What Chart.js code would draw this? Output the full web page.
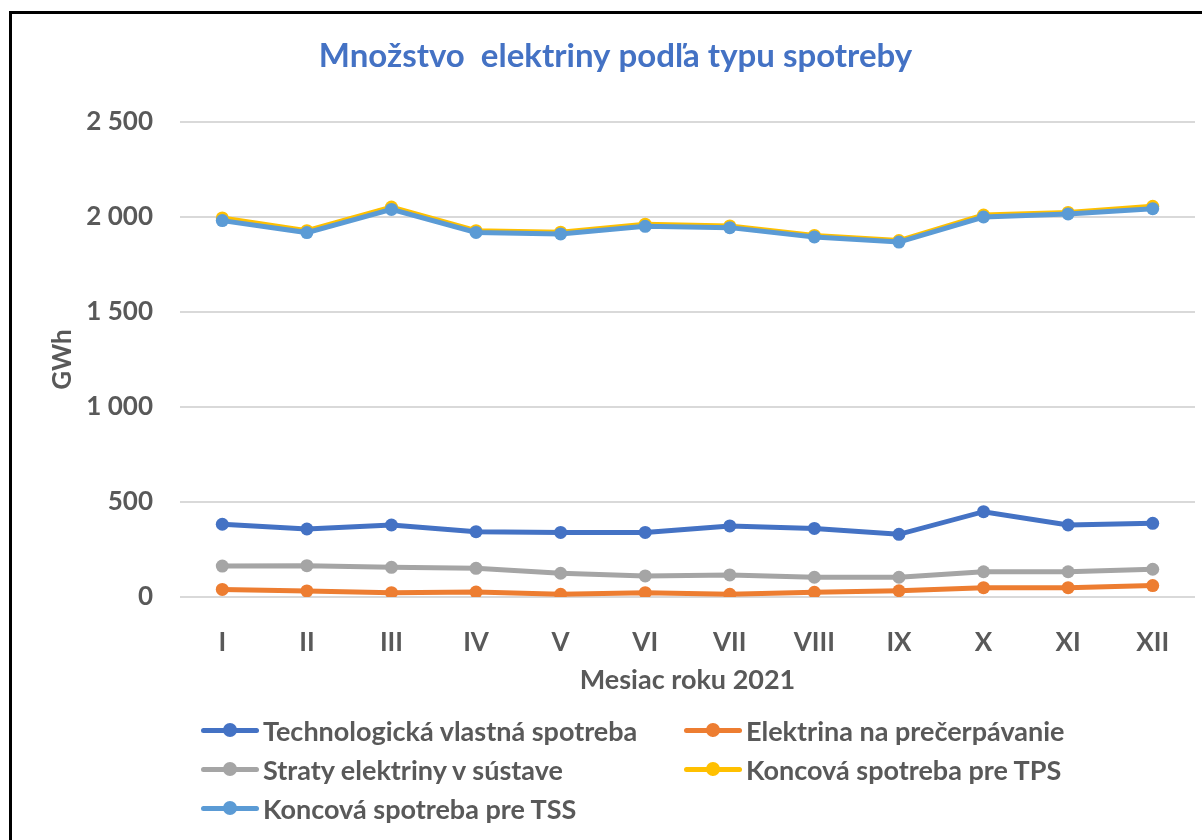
<!DOCTYPE html>
<html lang="sk">
<head>
<meta charset="utf-8">
<title>Množstvo elektriny podľa typu spotreby</title>
<script src="https://cdn.jsdelivr.net/npm/chart.js@4.4.1/dist/chart.umd.min.js"></script>
<style>
  html, body { margin: 0; padding: 0; background: #fff; overflow: hidden; }
  #wrap { position: relative; width: 1202px; height: 840px; }
  #frame { position: absolute; left: 9px; top: 11px; width: 1400px; height: 1000px; border: 3px solid #000; box-sizing: border-box; pointer-events: none; }
  #graf { position: absolute; left: 0; top: 0; }
  #legenda { position: absolute; left: 0; top: 0; font-family: Lato, sans-serif; font-weight: bold; font-size: 27px; color: #595959; }
  .polozka { position: absolute; display: flex; align-items: center; height: 30px; white-space: nowrap; }
  .vzorka { position: relative; width: 58px; height: 14px; margin-right: 4px; }
  .vzorka::before { content: ""; position: absolute; left: 0; right: 0; top: 4.5px; height: 5px; border-radius: 3px; background: var(--c); }
  .vzorka::after { content: ""; position: absolute; left: 22px; top: 0; width: 14px; height: 14px; border-radius: 50%; background: var(--c); }
</style>
</head>
<body>
<div id="wrap">
  <canvas id="graf" width="1202" height="840"></canvas>
  <div id="legenda"></div>
  <div id="frame"></div>
</div>
<script>
const mesiace = ["I", "II", "III", "IV", "V", "VI", "VII", "VIII", "IX", "X", "XI", "XII"];
const technologicka = [383, 358, 379, 344, 340, 340, 374, 361, 330, 449, 379, 388];
const precerpavanie = [40, 32, 23, 26, 14, 23, 14, 25, 33, 49, 49, 60];
const straty = [163, 165, 156, 151, 125, 111, 116, 104, 104, 133, 133, 146];
const koncovaTPS = [1995, 1928, 2052, 1928, 1920, 1962, 1953, 1903, 1876, 2010, 2024, 2056];
const koncovaTSS = [1981, 1918, 2040, 1919, 1911, 1951, 1944, 1895, 1868, 2000, 2016, 2044];

const nazvy = ["Technologická vlastná spotreba", "Elektrina na prečerpávanie", "Straty elektriny v sústave", "Koncová spotreba pre TPS", "Koncová spotreba pre TSS"];
const farby = ["#4472C4", "#ED7D31", "#A5A5A5", "#FFC000", "#5B9BD5"];
const hodnoty = [technologicka, precerpavanie, straty, koncovaTPS, koncovaTSS];
const poradie = [1, 2, 3, 5, 4];

const sivaText = '#595959';
const pismo = 'Lato, sans-serif';

const datasets = hodnoty.map((data, i) => ({
    label: nazvy[i],
    data: data,
    borderColor: farby[i],
    backgroundColor: farby[i],
    borderWidth: 5,
    pointRadius: 6.5,
    pointHoverRadius: 6.5,
    pointBorderWidth: 0,
    tension: 0,
    order: poradie[i]
}));

const ctx = document.getElementById('graf').getContext('2d');
new Chart(ctx, {
    type: 'line',
    data: { labels: mesiace, datasets: datasets },
    options: {
        responsive: false,
        animation: false,
        layout: { padding: { left: 36, right: 7, top: 0, bottom: 0 } },
        plugins: {
            legend: { display: false },
            tooltip: { enabled: false },
            title: {
                display: true,
                text: 'Množstvo  elektriny podľa typu spotreby',
                color: '#4472C4',
                font: { family: pismo, size: 33, weight: 'bold' },
                padding: { top: 37, bottom: 45.4 }
            }
        },
        scales: {
            x: {
                offset: true,
                grid: { display: false },
                border: { display: false },
                ticks: {
                    color: sivaText,
                    padding: 22,
                    font: { family: pismo, size: 26, weight: 'bold' }
                },
                title: {
                    display: true,
                    text: 'Mesiac roku 2021',
                    color: sivaText,
                    font: { family: pismo, size: 27, weight: 'bold' },
                    padding: { top: 0, bottom: 144 }
                },
                afterFit: scale => { scale.height = 243; }
            },
            y: {
                min: 0,
                max: 2500,
                border: { display: false },
                grid: { color: '#d9d9d9', lineWidth: 2, drawTicks: false },
                ticks: {
                    stepSize: 500,
                    color: sivaText,
                    padding: 27,
                    font: { family: pismo, size: 26, weight: 'bold' },
                    callback: v => String(v).replace(/\B(?=(\d{3})+(?!\d))/g, ' ')
                },
                title: {
                    display: true,
                    text: 'GWh',
                    color: sivaText,
                    font: { family: pismo, size: 26, weight: 'bold' },
                    padding: { top: 11, bottom: 11 }
                },
                afterFit: scale => { scale.width = 144; }
            }
        }
    }
});

// legenda v dvoch stĺpcoch ako v Exceli
const stlpceX = [201, 684];
const riadkyY = [715, 754, 793];
const legenda = document.getElementById('legenda');
nazvy.forEach((nazov, i) => {
    const el = document.createElement('div');
    el.className = 'polozka';
    el.style.left = stlpceX[i % 2] + 'px';
    el.style.top = riadkyY[Math.floor(i / 2)] + 'px';
    el.innerHTML = '<span class="vzorka" style="--c:' + farby[i] + '"></span><span>' + nazov + '</span>';
    legenda.appendChild(el);
});
</script>
</body>
</html>
